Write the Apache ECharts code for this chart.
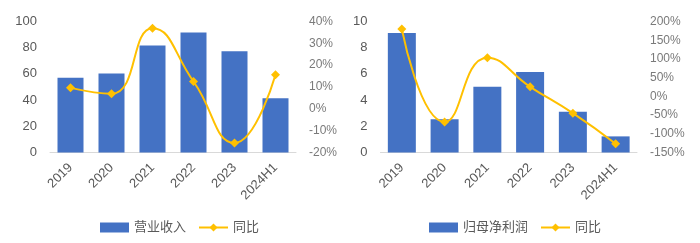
<!DOCTYPE html>
<html><head><meta charset="utf-8">
<script src="https://cdn.jsdelivr.net/npm/echarts@6/dist/echarts.min.js"></script>
<style>html,body{margin:0;padding:0;background:#fff}#wrap{width:700px;height:243px;position:relative}#c1{position:absolute;left:0;top:0;width:350px;height:243px}#c2{position:absolute;left:350px;top:0;width:350px;height:243px}</style>
</head><body><div id="wrap"><div id="c1"></div><div id="c2"></div></div>
<script>
const categories = ['2019','2020','2021','2022','2023','2024H1'];
const revenue = [57, 60.3, 81.7, 91.6, 77.3, 41.5];
const revenueYoY = [9.6, 6.9, 36.9, 12.5, -15.6, 15.6];
const profit = [9.13, 2.53, 5.01, 6.14, 3.12, 1.23];
const profitYoY = [179.7, -68.5, 103.4, 25.5, -45, -126.5];
const leftTicks1 = {min:0, max:100, interval:20};
const rightTicks1 = {min:-20, max:40, interval:10};
const leftTicks2 = {min:0, max:10, interval:2};
const rightTicks2 = {min:-150, max:200, interval:50};

const FONT = 'Liberation Sans, Arial, Noto Sans CJK SC, sans-serif';
const BAR = '#4472C4', LINE = '#FFC000';

function build(gridLeft, gridWidth, barName, bars, yoy, lt, rt, legendLeft, barW){
  return {
    animation:false,
    textStyle:{fontFamily:FONT},
    grid:{left:gridLeft, top:21.5, width:gridWidth, height:131},
    legend:{left:legendLeft, top:216, itemWidth:29, itemHeight:10, itemGap:12,
      textStyle:{color:'#595959', fontSize:13, fontFamily:FONT},
      data:[{name:barName, icon:'rect'}, {name:'同比'}]},
    xAxis:{type:'category', data:categories,
      axisLine:{lineStyle:{color:'#D9D9D9', width:1}}, axisTick:{show:false},
      axisLabel:{rotate:45, color:'#595959', fontSize:13, margin:13, interval:0, fontFamily:FONT}},
    yAxis:[
      {type:'value', min:lt.min, max:lt.max, interval:lt.interval, splitLine:{show:false},
       axisLine:{show:false}, axisTick:{show:false},
       axisLabel:{color:'#595959', fontSize:13, margin:13, fontFamily:FONT}},
      {type:'value', min:rt.min, max:rt.max, interval:rt.interval, splitLine:{show:false},
       axisLine:{show:false}, axisTick:{show:false},
       axisLabel:{color:'#7a7a7a', fontSize:12, margin:13, formatter:'{value}%', fontFamily:FONT}}
    ],
    series:[
      {name:barName, type:'bar', data:bars, barWidth:barW, itemStyle:{color:BAR}},
      {name:'同比', type:'line', yAxisIndex:1, data:yoy, smooth:0.5,
       symbol:'diamond', symbolSize:9, lineStyle:{color:LINE, width:2}, itemStyle:{color:LINE}}
    ]
  };
}
const c1 = echarts.init(document.getElementById('c1'), null, {renderer:'canvas'});
c1.setOption(build(50, 246, '营业收入', revenue, revenueYoY, leftTicks1, rightTicks1, 95, 26));
const c2 = echarts.init(document.getElementById('c2'), null, {renderer:'canvas'});
c2.setOption(build(28, 259, '归母净利润', profit, profitYoY, leftTicks2, rightTicks2, 74, 28));
</script></body></html>
